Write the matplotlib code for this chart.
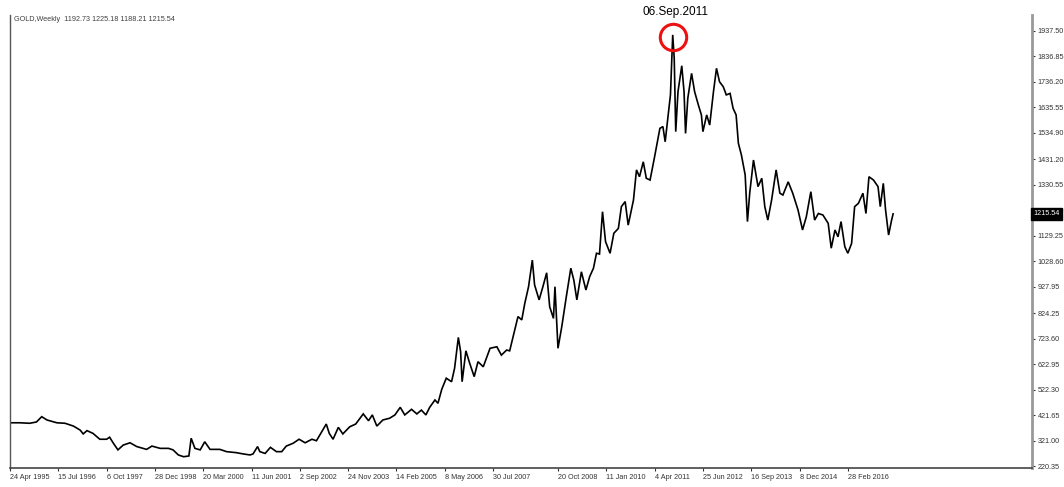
import numpy as np
import matplotlib
matplotlib.use('Agg')
import matplotlib.pyplot as plt

# weekly bar index (from 24 Apr 1995) and close price
weeks = [0, 13, 26, 35, 42, 49, 62, 73, 84, 93, 97, 102, 110, 119, 128, 132, 137, 143, 150, 159,
         168, 181, 188, 199, 210, 216, 223, 230, 237, 240, 245, 252, 258, 265, 278, 287, 300, 309,
         318, 322, 328, 331, 338, 345, 353, 360, 366, 375, 383, 391, 400, 406, 413, 419, 423, 428,
         435, 441, 450, 458, 468, 475, 480, 486, 494, 503, 510, 517, 523, 532, 539, 545, 551, 556,
         563, 567, 572, 578, 585, 589, 594, 597, 599,
         604, 609, 615, 620, 627, 636, 645, 651, 658, 662, 667, 673, 678, 682, 687, 692, 695, 701,
         706, 711, 715, 720, 722, 726, 731, 737, 743, 747, 751, 757, 763, 768, 773, 777, 781, 785,
         789, 795, 800, 806, 810, 815, 819, 826, 830, 834,
         839, 843, 848, 854, 861, 865, 868, 872, 875, 878, 880, 882, 885, 890, 893, 895, 898, 903,
         907, 912, 916, 918, 923, 927, 932, 936, 940, 945, 949, 954, 958, 962, 965, 969, 974, 977,
         980, 985, 991, 996, 1000, 1004, 1009, 1015, 1020, 1024, 1031, 1037, 1044, 1050, 1055, 1061,
         1066, 1071, 1077, 1084, 1088, 1093, 1097, 1101, 1106, 1110, 1115, 1119, 1124, 1130, 1134,
         1138, 1144, 1150, 1153, 1157, 1160, 1164, 1168, 1170]
closes = [391, 391, 389, 394, 415, 402, 391, 389, 378, 362, 347, 360, 349, 326, 326, 334, 310, 284, 303, 312,
          297, 286, 299, 290, 290, 284, 264, 257, 260, 330, 290, 284, 316, 286, 286, 277, 273, 268,
          264, 268, 297, 277, 270, 294, 277, 277, 299, 310, 326, 312, 326, 320, 356, 386, 349, 326,
          373, 347, 375, 386, 426, 399, 422, 378, 402, 409, 422, 452, 422, 444, 426, 441, 422, 452,
          481, 468, 523, 567, 553, 606, 728, 671, 553,
          675, 626, 573, 632, 612, 685, 691, 658, 678, 675, 737, 810, 797, 862, 928, 1033, 935, 876,
          928, 983, 849, 803, 928, 685, 770, 888, 1001, 954, 876, 987, 915, 968, 1001, 1060, 1057, 1224,
          1106, 1060, 1139, 1158, 1244, 1264, 1171, 1270, 1389, 1362,
          1421, 1356, 1349, 1441, 1553, 1560, 1500, 1606, 1685, 1922, 1829, 1540, 1698, 1800, 1698, 1533, 1672, 1770,
          1698, 1645, 1606, 1540, 1606, 1566, 1698, 1790, 1737, 1717, 1685, 1691, 1632, 1606, 1494, 1448, 1369, 1185,
          1297, 1428, 1323, 1356, 1244, 1191, 1270, 1389, 1297, 1290, 1342, 1297, 1231, 1152, 1204, 1303,
          1191, 1217, 1211, 1178, 1080, 1152, 1125, 1185, 1086, 1060, 1099, 1244, 1257, 1297, 1217,
          1362, 1349, 1323, 1244, 1336, 1231, 1132, 1191, 1215.54]

tick_weeks = [0, 64, 128, 192, 256, 320, 384, 448, 512, 576, 640, 726, 790, 854, 918, 982, 1046, 1110]
tick_dates = ['24 Apr 1995', '15 Jul 1996', '6 Oct 1997', '28 Dec 1998', '20 Mar 2000', '11 Jun 2001',
              '2 Sep 2002', '24 Nov 2003', '14 Feb 2005', '8 May 2006', '30 Jul 2007', '20 Oct 2008',
              '11 Jan 2010', '4 Apr 2011', '25 Jun 2012', '16 Sep 2013', '8 Dec 2014', '28 Feb 2016']
price_ticks = ['220.35', '321.00', '421.65', '522.30', '622.95', '723.60', '824.25', '927.95', '1028.60',
               '1129.25', '1229.90', '1330.55', '1431.20', '1534.90', '1635.55', '1736.20', '1836.85', '1937.50']

ohlc_last = [1192.73, 1225.18, 1188.21, 1215.54]

plt.rcParams['font.family'] = ['Liberation Sans', 'DejaVu Sans']

fig = plt.figure(figsize=(10.64, 4.87), dpi=100)
ax = fig.add_axes([10/1064, 1 - 468/487, 1022/1064, 453/487])

ax.plot(weeks, closes, color='black', lw=1.2, solid_joinstyle='miter')

ax.set_xlim(0, 1354)
ax.set_ylim(212.5, 2000.4)

ax.yaxis.tick_right()
ax.set_yticks([float(v) for v in price_ticks])
ax.set_yticklabels(price_ticks)
ax.set_xticks(tick_weeks)
ax.set_xticklabels(tick_dates, ha='left')
ax.tick_params(axis='y', direction='out', length=2.5, width=0.8, pad=1.5,
               labelsize=5.2, colors='#333333')
ax.tick_params(axis='x', direction='out', length=2.5, width=0.8, pad=1.5,
               labelsize=5.2, colors='#333333')

ax.spines['top'].set_visible(False)
ax.spines['left'].set_color('#555555')
ax.spines['left'].set_linewidth(1.0)
ax.spines['bottom'].set_color('#444444')
ax.spines['bottom'].set_linewidth(1.2)
ax.spines['right'].set_color('#999999')
ax.spines['right'].set_linewidth(2.0)

# header
ax.text(0.004, 0.991, 'GOLD,Weekly  ' + ' '.join('%.2f' % v for v in ohlc_last),
        transform=ax.transAxes, ha='left', va='center', fontsize=5.2, color='#404040')

# last price tag, drawn over the 1229.90 label like the terminal does
ax.text(1.0015, ohlc_last[-1], '%.2f' % ohlc_last[-1], transform=ax.get_yaxis_transform(),
        ha='left', va='center', fontsize=5.2, color='white', zorder=10, clip_on=False,
        bbox=dict(boxstyle='square,pad=0.3', fc='black', ec='black'))

# peak marker
pk = int(np.argmax(closes))
ax.plot(weeks[pk] + 1, closes[pk] - 10, marker='o', ms=19, mfc='none', mec='#ee1111',
        mew=2.2, clip_on=False, zorder=5)
ax.annotate('06.Sep.2011', xy=(weeks[pk] + 1, closes[pk] - 10), xytext=(1.5, 18),
            textcoords='offset points', ha='center', va='center', fontsize=8.5,
            color='black', annotation_clip=False)

fig.savefig('out.png', dpi=100)
